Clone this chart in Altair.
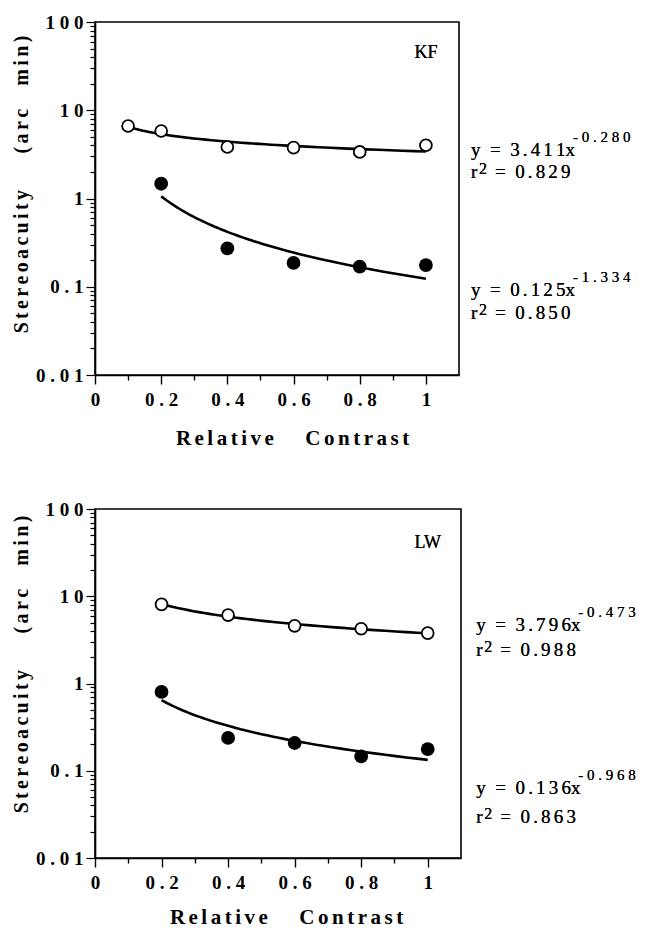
import altair as alt
import pandas as pd

# ---------------- data ----------------
kf_open_contrast = [0.1, 0.2, 0.4, 0.6, 0.8, 1.0]
kf_open_acuity = [6.63, 5.82, 3.83, 3.77, 3.37, 4.01]
kf_filled_contrast = [0.2, 0.4, 0.6, 0.8, 1.0]
kf_filled_acuity = [1.47, 0.272, 0.186, 0.169, 0.176]

lw_open_contrast = [0.2, 0.4, 0.6, 0.8, 1.0]
lw_open_acuity = [8.07, 6.08, 4.58, 4.24, 3.78]
lw_filled_contrast = [0.2, 0.4, 0.6, 0.8, 1.0]
lw_filled_acuity = [0.80, 0.238, 0.208, 0.146, 0.177]

kf_coef = ["3.411", "0.125"]
kf_expo = ["-0.280", "-1.334"]
kf_r2 = ["0.829", "0.850"]
lw_coef = ["3.796", "0.136"]
lw_expo = ["-0.473", "-0.968"]
lw_r2 = ["0.988", "0.863"]

x_tick_values = [0.0, 0.1, 0.2, 0.3, 0.4, 0.5, 0.6, 0.7, 0.8, 0.9, 1.0]
y_tick_values = [round(m * 10.0 ** e, 6) for e in range(-2, 2) for m in range(1, 10)] + [100.0]

SERIF = "Liberation Serif"
S6 = "\u2006"
S4 = "\u2005"


def sp(s, sep=S6):
    return sep.join(list(s))


def make_df(oc, oa, fc, fa):
    return pd.DataFrame({
        "contrast": oc + fc,
        "acuity": oa + fa,
        "series": ["open"] * len(oc) + ["filled"] * len(fc),
    })


YTITLE = sp("Stereoacuity") + "\u2003\u2002\u2004" + sp("(arc") + "\u2003\u2006" + sp("min)")
XTITLE = sp("Relative") + "\u2003\u2002" + sp("Contrast")

Y_MAJOR = "abs(log(datum.value)/LN10 - round(log(datum.value)/LN10)) < 1e-6"
X_MAJOR = "round(datum.value*10) % 2 == 0"


def panel(df, w, h, label, label_y, xa, eqs, ytitle_y, xtitle_x, xtitle_pad):
    x_scale = alt.Scale(domain=[0, 1.1], nice=False, zero=False)
    y_scale = alt.Scale(type="log", domain=[0.01, 100], nice=False)
    x_axis = alt.Axis(
        values=x_tick_values, format=".1~f",
        labelExpr=f"{X_MAJOR} ? join(split(datum.label, ''), '{S4}') : ''",
        tickSize={"condition": {"test": X_MAJOR, "value": 9}, "value": 5},
        title=XTITLE, titleX=xtitle_x, titlePadding=xtitle_pad,
        titleFont=SERIF, titleFontSize=21, titleFontWeight="bold", titleColor="black",
        labelFont=SERIF, labelFontSize=19, labelFontWeight="bold", labelColor="black",
        labelPadding=6, labelFlush=False, labelOverlap=False,
        grid=False, domainColor="black", domainWidth=1.6, tickColor="black", tickWidth=1.4,
    )
    y_axis = alt.Axis(
        values=y_tick_values, format="~g",
        labelExpr=f"{Y_MAJOR} ? join(split(datum.label, ''), '{S4}') : ''",
        tickSize={"condition": {"test": Y_MAJOR, "value": 9}, "value": 5},
        title=YTITLE, titleY=ytitle_y, titlePadding=4,
        titleFont=SERIF, titleFontSize=20, titleFontWeight="bold", titleColor="black",
        labelFont=SERIF, labelFontSize=19, labelFontWeight="bold", labelColor="black",
        labelPadding=3, labelFlush=False, labelOverlap=False, labelBaseline="middle",
        grid=False, domainColor="black", domainWidth=1.6, tickColor="black", tickWidth=1.2,
    )
    X = alt.X("contrast:Q", scale=x_scale, axis=x_axis)
    Y = alt.Y("acuity:Q", scale=y_scale, axis=y_axis)
    base = alt.Chart(df)
    fit = base.transform_regression(
        "contrast", "acuity", method="pow", groupby=["series"]
    ).mark_line(color="black", strokeWidth=2.6).encode(x=X, y=Y, detail="series:N")
    open_pts = base.transform_filter(alt.datum.series == "open").mark_point(
        shape="circle", filled=True, fill="white", stroke="black",
        strokeWidth=1.8, size=140, opacity=1, fillOpacity=1,
    ).encode(x=X, y=Y)
    filled_pts = base.transform_filter(alt.datum.series == "filled").mark_point(
        shape="circle", filled=True, fill="black", size=190, opacity=1,
    ).encode(x=X, y=Y)

    def txt(xv, yv, s, size, dx=0, dy=0, align="left"):
        return alt.Chart(df).mark_text(
            text=s, font=SERIF, fontSize=size, color="black",
            align=align, baseline="alphabetic", dx=dx, dy=dy,
        ).encode(
            x=alt.X(datum=xv, scale=x_scale, axis=x_axis),
            y=alt.Y(datum=yv, scale=y_scale, axis=y_axis),
        ).transform_filter("datum.contrast == 1")

    layers = [fit, open_pts, filled_pts, txt(1.0, label_y, label, 18, align="center")]
    for (ya, coef, expo, r2, r2dy) in eqs:
        layers += [
            txt(xa, ya, "y\u2002=\u2002" + sp(coef) + "x", 19),
            txt(xa, ya, sp(expo, S4), 15, dx=102, dy=-14),
            txt(xa, ya, "r", 19, dy=r2dy),
            txt(xa, ya, "2", 16, dx=8, dy=r2dy - 4),
            txt(xa, ya, "=\u2002" + sp(r2), 19, dx=24, dy=r2dy),
        ]
    return alt.layer(*layers).properties(width=w, height=h)


kf_df = make_df(kf_open_contrast, kf_open_acuity, kf_filled_contrast, kf_filled_acuity)
lw_df = make_df(lw_open_contrast, lw_open_acuity, lw_filled_contrast, lw_filled_acuity)

top = panel(
    kf_df, 364, 353, "KF", 39.0, 1.136,
    [(3.03, kf_coef[0], kf_expo[0], kf_r2[0], 22), (0.0785, kf_coef[1], kf_expo[1], kf_r2[1], 23)],
    162, 197, 18,
)
bottom = panel(
    lw_df, 366, 349, "LW", 35.7, 1.146,
    [(4.0, lw_coef[0], lw_expo[0], lw_r2[0], 25), (0.0542, lw_coef[1], lw_expo[1], lw_r2[1], 29)],
    155, 191, 14,
)

chart = alt.vconcat(top, bottom, spacing=134, bounds="flush").properties(
    padding={"left": 10, "top": 12, "right": 0, "bottom": 0},
    background="white",
).configure_view(stroke="black", strokeWidth=1.6)

chart.save("out.html", embed_options={"renderer": "svg", "actions": False})
